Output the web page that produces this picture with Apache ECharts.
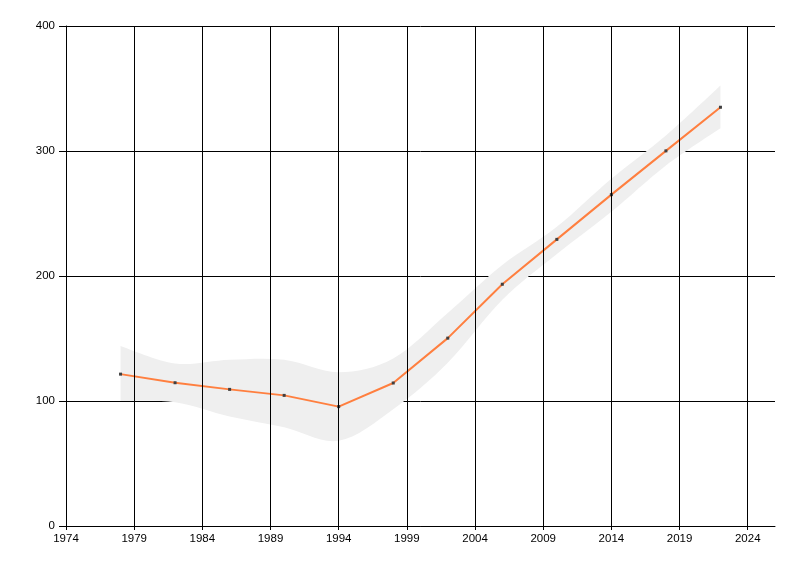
<!DOCTYPE html>
<html><head><meta charset="utf-8">
<script src="https://cdn.jsdelivr.net/npm/echarts@6/dist/echarts.min.js"></script>
<style>html,body{margin:0;padding:0;background:#fff}#c{width:800px;height:576px}</style>
</head><body><div id="c"></div>
<script>
const years = [1978,1982,1986,1990,1994,1998,2002,2006,2010,2014,2018,2022];
const values = [121.5,114.6,109.3,104.5,95.5,114.4,150.3,193.4,229.3,265.1,300.1,335];
const upper = [144,130,133,133,123,134,170.4,208.8,239.4,277.9,312.4,352.4];
const lower = [100,99,87.6,79,68.2,93.4,130.6,181,217.6,251.4,288.5,318.3];
const xTicks = [1974,1979,1984,1989,1994,1999,2004,2009,2014,2019,2024];
const yTicks = [0,100,200,300,400];

function splinePath(pts, start) {
  let d = (start ? 'M' : 'L') + pts[0][0] + ' ' + pts[0][1];
  const t = 0.5;
  for (let i = 0; i < pts.length - 1; i++) {
    const p0 = pts[i - 1] || pts[i], p1 = pts[i], p2 = pts[i + 1], p3 = pts[i + 2] || p2;
    const c1 = [p1[0] + (p2[0] - p0[0]) * t / 3, p1[1] + (p2[1] - p0[1]) * t / 3];
    const c2 = [p2[0] - (p3[0] - p1[0]) * t / 3, p2[1] - (p3[1] - p1[1]) * t / 3];
    d += ' C' + c1[0] + ' ' + c1[1] + ' ' + c2[0] + ' ' + c2[1] + ' ' + p2[0] + ' ' + p2[1];
  }
  return d;
}

const chart = echarts.init(document.getElementById('c'), null, {renderer:'canvas'});
const font = {fontFamily:'Liberation Sans, Arial, sans-serif', fontSize:11.5, color:'#000'};
chart.setOption({
  animation:false,
  backgroundColor:'#fff',
  grid:{left:66, right:25, top:26, bottom:50, containLabel:false},
  xAxis:{type:'value', min:1974, max:2026,
    axisLine:{show:true, onZero:false, lineStyle:{color:'#000', width:1}},
    axisTick:{show:true, length:4, customValues:xTicks, lineStyle:{color:'#000'}},
    axisLabel:Object.assign({margin:7, customValues:xTicks, formatter:v=>String(v)}, font),
    splitLine:{show:false}},
  yAxis:{type:'value', min:0, max:400, interval:100,
    axisLine:{show:true, lineStyle:{color:'#000', width:1}},
    axisTick:{show:true, length:7, customValues:yTicks, lineStyle:{color:'#000'}},
    axisLabel:Object.assign({margin:11, customValues:yTicks, formatter:v=>String(v)}, font),
    splitLine:{show:true, lineStyle:{color:'#000', width:1}}},
  series:[
    {type:'line', data:[], z:0, silent:true,
      markLine:{silent:true, symbol:['none','none'], label:{show:false},
        lineStyle:{color:'#000', width:1, type:'solid'},
        data:xTicks.slice(1).map(v=>({xAxis:v}))}},
    {type:'custom', silent:true, z:1, data:[0],
      renderItem:function(params, api){
        const up = years.map((y,i)=>api.coord([y, upper[i]]));
        const lo = years.map((y,i)=>api.coord([y, lower[i]])).reverse();
        const d = splinePath(up, true) + ' ' + splinePath(lo, false) + ' Z';
        return {type:'path', shape:{pathData:d}, style:{fill:'#efefef', stroke:null}};
      }},
    {type:'line', data:years.map((y,i)=>[y,values[i]]), smooth:false,
      symbol:'rect', symbolSize:3, itemStyle:{color:'#404040'},
      lineStyle:{color:'#ff7f3f', width:2}, z:3}
  ]
});
</script></body></html>
